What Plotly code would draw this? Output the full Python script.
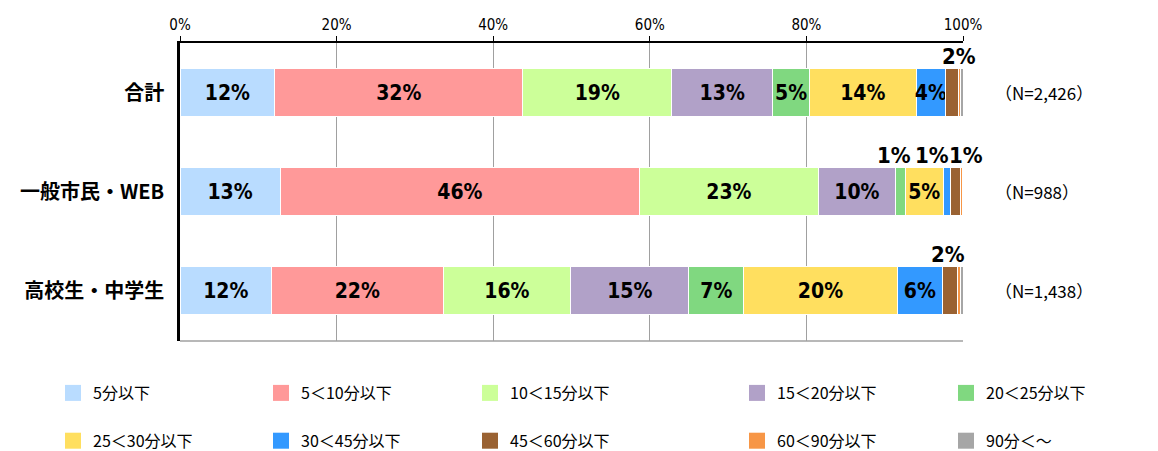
import plotly.graph_objects as go

categories = ["合計", "一般市民・WEB", "高校生・中学生"]
n_labels = ["（N=2,426）", "（N=988）", "（N=1,438）"]
series_names = ["5分以下", "5＜10分以下", "10＜15分以下", "15＜20分以下", "20＜25分以下",
                "25＜30分以下", "30＜45分以下", "45＜60分以下", "60＜90分以下", "90分＜～"]
v_5 = [12.1, 12.8, 11.7]
v_10 = [31.7, 45.9, 21.9]
v_15 = [19.0, 22.8, 16.3]
v_20 = [12.9, 9.9, 15.1]
v_25 = [4.7, 1.2, 7.0]
v_30 = [13.6, 4.9, 19.6]
v_45 = [3.8, 0.9, 5.8]
v_60 = [1.6, 1.3, 1.9]
v_90 = [0.3, 0.2, 0.4]
v_over = [0.3, 0.1, 0.3]
tick_vals = [0, 20, 40, 60, 80, 100]
tick_text = ["0%", "20%", "40%", "60%", "80%", "100%"]

series_values = [v_5, v_10, v_15, v_20, v_25, v_30, v_45, v_60, v_90, v_over]
colors = ["#B9DCFF", "#FF9999", "#CCFF99", "#B1A1C8", "#80D880",
          "#FFDF5F", "#3399FF", "#9A6232", "#F79646", "#A6A6A6"]

# styling (page body has an 8px margin, so the figure is offset by 8px)
OFF = 8
W, H = 1158 - OFF, 451 - OFF
L, T = 180 - OFF, 43 - OFF
PLOT_R, PLOT_B = 963 - OFF, 341 - OFF
R, B = W - PLOT_R, H - PLOT_B
PW = W - L - R
PH = H - T - B
LABEL_FONT = "DejaVu Sans Condensed, Liberation Sans Narrow, Liberation Sans, Arial, sans-serif"
JP_FONT = "Noto Sans CJK JP, sans-serif"
small_shift = {(0, 7): 7, (1, 4): -6, (1, 6): -15, (1, 7): 10, (2, 7): -2}

fig = go.Figure()
for i, (name, vals, col) in enumerate(zip(series_names, series_values, colors)):
    texts = [f"{round(v)}%" if v >= 3 else "" for v in vals]
    fig.add_trace(go.Bar(
        x=vals, y=categories, orientation="h", name=name,
        marker=dict(color=col, line=dict(color="white", width=1)),
        text=texts, textposition="inside", insidetextanchor="middle",
        textangle=0, constraintext="none",
        textfont=dict(family=LABEL_FONT, size=21, color="black", weight="bold"),
        showlegend=False, hoverinfo="x+y+name",
    ))

# legend entries (5 columns x 2 rows)
for i, (name, col) in enumerate(zip(series_names, colors)):
    lg = "legend" if i % 5 == 0 else f"legend{i % 5 + 1}"
    fig.add_trace(go.Scatter(
        x=[None], y=[None], mode="markers", name=name,
        marker=dict(symbol="square", size=16, color=col),
        legend=lg, legendgroup=name, showlegend=True,
    ))

# labels for small segments, above the bar
annotations = []
for r, cat in enumerate(categories):
    cum = 0.0
    for s, vals in enumerate(series_values):
        v = vals[r]
        if v < 3 and round(v) >= 1:
            annotations.append(dict(
                x=cum + v / 2, y=cat, xref="x", yref="y",
                text=f"{round(v)}%", showarrow=False,
                xshift=small_shift.get((r, s), 0), yshift=36,
                font=dict(family=LABEL_FONT, size=22, color="black", weight="bold"),
            ))
        cum += v
    annotations.append(dict(
        x=(993 - OFF - L) / PW, xref="paper", y=cat, yref="y", xanchor="left",
        text=n_labels[r], showarrow=False,
        font=dict(family=JP_FONT, size=17, color="black"),
    ))

legend_text_px = [90, 298, 507, 774, 983]
legend_top_px = 376 - OFF
legend_common = dict(
    orientation="v", yanchor="top", y=-(legend_top_px - PLOT_B) / PH, xanchor="left",
    font=dict(family=JP_FONT, size=16, color="black"),
    traceorder="grouped", tracegroupgap=24, bgcolor="rgba(0,0,0,0)",
    itemclick=False, itemdoubleclick=False,
)
legends = {}
for k, px in enumerate(legend_text_px):
    key = "legend" if k == 0 else f"legend{k + 1}"
    legends[key] = dict(legend_common, x=(px - 37 - OFF - L) / PW)

fig.update_layout(
    width=W, height=H,
    margin=dict(l=L, r=R, t=T, b=B, pad=0, autoexpand=False),
    barmode="stack", bargap=0.515,
    plot_bgcolor="white", paper_bgcolor="white",
    font=dict(family=JP_FONT, color="black"),
    annotations=annotations,
    shapes=[dict(type="line", xref="paper", yref="paper", x0=0, x1=1, y0=0, y1=0,
                 line=dict(color="#A0A0A0", width=1.5))],
    **legends,
)
fig.update_xaxes(
    side="top", range=[0, 100], tickvals=tick_vals, ticktext=tick_text,
    showgrid=True, gridcolor="#A0A0A0", gridwidth=1,
    showline=True, linecolor="black", linewidth=2,
    ticks="outside", ticklen=5, tickcolor="black", tickwidth=1,
    tickfont=dict(family=LABEL_FONT, size=15, color="black"),
    zeroline=False, fixedrange=True,
)
fig.update_yaxes(
    categoryorder="array", categoryarray=categories, autorange="reversed",
    showline=True, linecolor="black", linewidth=2.5,
    ticks="", ticklabelstandoff=9,
    tickfont=dict(family=JP_FONT, size=20, color="black", weight="bold"),
    showgrid=False, fixedrange=True,
)
fig.write_html("out.html")
